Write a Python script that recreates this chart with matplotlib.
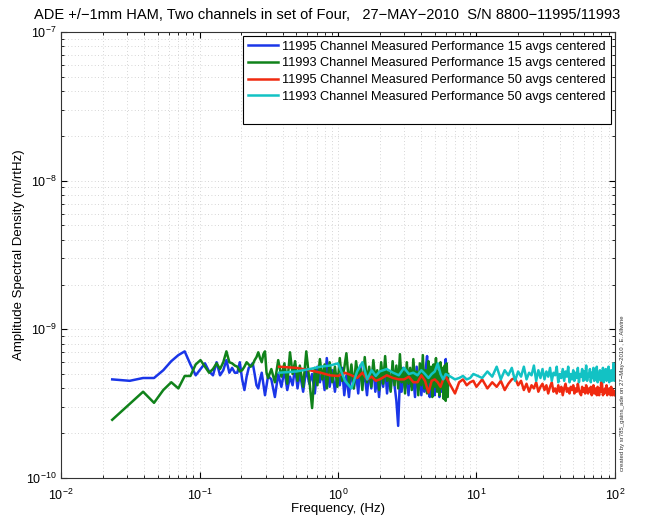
import matplotlib
matplotlib.use("Agg")
import matplotlib.pyplot as plt
from matplotlib.lines import Line2D
import numpy as np

plt.rcParams['font.family'] = ['Liberation Sans', 'DejaVu Sans']
plt.rcParams['mathtext.fontset'] = 'custom'
plt.rcParams['mathtext.rm'] = 'Liberation Sans'

# Frequencies (Hz) of the 15 avg runs (both channels)
freq15 = [0.0234, 0.0313, 0.0391, 0.0469, 0.0547, 0.0625, 0.0703, 0.0781, 0.0859, 0.0938,
          0.1016, 0.1094, 0.1172, 0.125, 0.1328, 0.1406, 0.1484, 0.1563, 0.1641, 0.1719,
          0.1797, 0.1875, 0.1953, 0.2031, 0.2109, 0.2188, 0.2266, 0.2344, 0.2422, 0.25,
          0.2578, 0.2656, 0.2734, 0.2813, 0.2891, 0.2969, 0.3047, 0.3125,
          0.33, 0.35, 0.37, 0.39, 0.41, 0.43, 0.45, 0.47, 0.49, 0.51,
          0.53, 0.56, 0.59, 0.62, 0.65, 0.68, 0.71, 0.74, 0.77, 0.80,
          0.83, 0.87, 0.91, 0.95, 0.99, 1.03, 1.07, 1.11, 1.15, 1.20,
          1.25, 1.30, 1.35, 1.40, 1.45, 1.50, 1.56, 1.62, 1.68, 1.74,
          1.80, 1.86, 1.92, 1.98, 2.05, 2.12, 2.19, 2.26, 2.33, 2.40,
          2.48, 2.56, 2.64, 2.72, 2.80, 2.88, 2.96, 3.05, 3.14, 3.23,
          3.32, 3.41, 3.50, 3.60, 3.70, 3.80, 3.90, 4.00, 4.10, 4.20,
          4.30, 4.40, 4.50, 4.60, 4.70, 4.80, 4.90, 5.00, 5.10, 5.20,
          5.30, 5.40, 5.50, 5.60, 5.70, 5.80, 5.90, 6.00, 6.10, 6.20, 6.25]

# ASD in units of 1e-10 m/rtHz
ch11995_15 = [4.6, 4.5, 4.7, 4.7, 5.3, 6.1, 6.7, 7.1, 5.8, 4.9,
              5.4, 5.9, 5.2, 4.9, 6.0, 4.9, 5.3, 6.2, 5.1, 5.5,
              5.1, 5.1, 6.0, 4.6, 3.9, 4.8, 5.5, 5.7, 5.9, 5.0,
              4.2, 4.0, 4.6, 5.1, 4.3, 3.6, 4.2, 4.85,
              4.6, 3.5, 5.0, 4.1, 5.3, 3.9, 4.8, 4.2, 5.6, 4.0,
              5.1, 3.8, 5.4, 4.3, 5.0, 3.7, 5.6, 4.4, 5.2, 3.9,
              6.4, 4.1, 5.3, 3.8, 5.0, 4.2, 5.5, 3.6, 4.9, 3.5,
              5.4, 4.0, 5.1, 3.7, 5.7, 4.3, 4.9, 3.6, 5.3, 4.0,
              5.8, 3.8, 4.8, 3.5, 5.2, 4.1, 5.6, 3.7, 4.9, 3.9,
              5.4, 4.2, 3.3, 2.24, 4.6, 3.8, 5.5, 4.0, 5.0, 3.6,
              5.3, 4.1, 4.7, 3.5, 5.6, 3.9, 5.1, 3.6, 4.8, 3.8,
              5.4, 6.6, 4.0, 3.5, 5.2, 3.7, 4.9, 3.6, 5.5, 3.9,
              4.7, 3.5, 5.3, 3.8, 4.6, 3.6, 5.0, 6.3, 3.9, 4.7, 4.2]

ch11993_15 = [2.46, 3.15, 3.8, 3.2, 3.9, 4.4, 4.0, 4.85, 4.85, 5.8,
              6.2, 5.6, 5.1, 5.4, 5.9, 5.4, 6.0, 7.1, 6.0, 5.9,
              5.7, 5.6, 5.2, 5.3, 5.6, 6.0, 5.8, 5.6, 5.8, 6.2,
              6.5, 7.0, 6.4, 6.0, 6.8, 7.1, 5.1, 4.7,
              5.4, 4.4, 6.2, 4.8, 5.9, 4.3, 7.0, 5.0, 6.1, 4.5,
              5.7, 4.1, 7.1, 4.6, 2.95, 5.5, 4.2, 6.3, 4.6, 5.8,
              4.0, 6.0, 4.4, 5.6, 4.1, 6.4, 4.5, 5.5, 6.9, 4.3,
              5.8, 4.0, 6.1, 4.7, 5.4, 3.9, 6.5, 4.4, 5.6, 4.1,
              6.2, 4.6, 5.3, 3.9, 6.0, 4.3, 6.6, 4.5, 5.2, 3.8,
              6.1, 4.2, 5.7, 4.0, 6.8, 4.4, 5.4, 3.7, 6.0, 4.3,
              5.5, 3.9, 6.3, 4.5, 5.2, 3.6, 5.9, 4.2, 6.7, 4.0,
              5.3, 3.7, 6.1, 4.4, 5.6, 3.5, 5.8, 4.1, 6.4, 3.8,
              5.2, 3.6, 6.0, 4.0, 5.5, 3.4, 5.7, 3.3, 5.9, 3.5, 5.0]

# Frequencies (Hz) of the 50 avg runs (both channels)
freq50 = [0.375, 0.5, 0.625, 0.75, 0.875, 1.0, 1.125, 1.25, 1.375, 1.5, 1.625, 1.75, 1.875, 2.0,
          2.25, 2.5, 2.75, 3.0, 3.25, 3.5, 3.75, 4.0, 4.25, 4.5, 4.75, 5.0, 5.25, 5.5, 5.75, 6.0,
          6.5, 7.0, 7.5, 8.0, 8.5, 9.0, 9.5, 10.0,
          11, 12, 13, 14, 15, 16, 17, 18, 19, 20, 21, 22, 23, 24, 25, 26, 27, 28, 29, 30,
          31, 32, 33, 34, 35, 36, 37, 38, 39, 40, 41, 42, 43, 44, 45, 46, 47, 48, 49, 50,
          51, 52, 53, 54, 55, 56, 57, 58, 59, 60, 61, 62, 63, 64, 65, 66, 67, 68, 69, 70,
          71, 72, 73, 74, 75, 76, 77, 78, 79, 80, 81, 82, 83, 84, 85, 86, 87, 88, 89, 90,
          91, 92, 93, 94, 95, 96, 97, 98, 99, 100]

ch11995_50 = [5.6, 5.5, 5.3, 5.1, 4.9, 4.85, 5.1, 4.9, 4.7, 5.1, 4.6, 4.8, 4.5, 4.6,
              4.9, 4.7, 4.6, 4.6, 4.8, 4.4, 4.4, 4.9, 4.5, 3.75, 4.5, 4.6, 4.4, 4.1, 4.6, 4.8,
              4.2, 3.7, 4.4, 4.6, 4.2, 4.4, 4.5, 4.1,
              4.6, 4.0, 4.4, 4.1, 4.5, 3.9, 4.3, 4.6, 4.7, 4.2, 4.5, 3.9, 4.3, 3.8, 4.2, 4.0, 4.4, 3.8, 4.1, 4.3,
              3.9, 4.2, 3.7, 4.1, 4.4, 3.8, 4.0, 3.7, 4.2, 3.8, 4.1, 3.6, 4.0, 4.3, 3.8, 4.0, 3.7, 4.1, 3.9, 4.2,
              3.7, 4.0, 3.8, 4.3, 3.9, 3.7, 3.6, 4.1, 3.8, 4.0, 3.7, 4.2, 3.9, 3.7, 4.0, 3.8, 4.1, 3.6, 3.9, 4.2,
              3.7, 4.0, 3.8, 3.6, 4.1, 3.7, 3.6, 4.0, 3.8, 5.0, 4.1, 3.6, 3.9, 3.7, 4.0, 3.8, 4.2, 3.6, 3.9, 3.7,
              4.0, 3.8, 3.6, 4.1, 3.7, 3.6, 3.9, 3.7, 3.8, 3.6]

ch11993_50 = [5.1, 5.2, 5.4, 5.6, 5.7, 5.9, 4.5, 4.0, 5.2, 6.0, 4.6, 5.3, 4.85, 5.2,
              5.4, 5.1, 4.9, 5.5, 5.0, 5.1, 4.9, 5.3, 5.0, 4.7, 5.0, 5.2, 5.9, 5.0, 4.6, 5.0,
              4.8, 4.6, 4.7, 4.85, 4.6, 4.7, 5.0, 4.9,
              4.7, 5.2, 4.8, 5.6, 4.6, 5.3, 4.9, 5.5, 4.5, 5.2, 4.8, 5.6, 4.6, 5.1, 4.9, 5.7, 4.5, 5.3, 4.7, 5.4,
              4.6, 5.2, 4.8, 5.5, 4.5, 5.1, 4.9, 5.6, 4.4, 5.0, 4.7, 5.4, 4.5, 5.2, 4.8, 5.6, 4.4, 5.0, 4.6, 5.3,
              4.5, 5.1, 4.7, 5.5, 4.4, 5.0, 4.8, 5.4, 4.5, 5.2, 4.6, 5.7, 4.5, 5.0, 4.8, 5.4, 4.4, 5.1, 4.7, 5.5,
              4.5, 5.2, 4.8, 5.6, 4.4, 5.0, 4.7, 5.3, 4.5, 5.1, 4.8, 5.5, 4.4, 5.2, 4.6, 5.4, 4.5, 5.0, 4.8, 5.6,
              4.4, 5.1, 4.7, 5.3, 4.5, 5.2, 4.6, 5.9, 4.5, 5.3]

labels = ["11995 Channel Measured Performance 15 avgs centered",
          "11993 Channel Measured Performance 15 avgs centered",
          "11995 Channel Measured Performance 50 avgs centered",
          "11993 Channel Measured Performance 50 avgs centered"]

fig = plt.figure(figsize=(6.5, 5.15), dpi=100)
ax = fig.add_axes([0.094, 0.072, 0.852, 0.866])

scale = 1e-10
ax.loglog(freq15, np.array(ch11995_15) * scale, color='#1a36e8', lw=1.8, label=labels[0])
ax.loglog(freq15, np.array(ch11993_15) * scale, color='#10821a', lw=1.8, label=labels[1])
ax.loglog(freq50, np.array(ch11995_50) * scale, color='#f02a10', lw=1.8, label=labels[2])
ax.loglog(freq50, np.array(ch11993_50) * scale, color='#12c2c4', lw=1.8, label=labels[3])

ax.set_xlim(1e-2, 1e2)
ax.set_ylim(1e-10, 1e-7)
ax.grid(True, which='both', ls=(0, (1, 3)), color='#c8c8c8', lw=0.6)
ax.tick_params(which='both', direction='in', top=True, right=True, labelsize=9)
ax.tick_params(which='major', length=4)
ax.tick_params(which='minor', length=2.5)
ax.tick_params(axis='x', pad=7)
ax.tick_params(axis='y', pad=3)
for s in ax.spines.values():
    s.set_linewidth(0.8)
    s.set_color('#333333')

ax.set_title("ADE +/\u22121mm HAM, Two channels in set of Four,   27\u2212MAY\u22122010  S/N 8800\u221211995/11993",
             fontsize=10.5, pad=9, x=0.48)
ax.set_xlabel("Frequency, (Hz)", fontsize=9.5, labelpad=0)
ax.set_ylabel("Amplitude Spectral Density (m/rtHz)", fontsize=9.5, labelpad=1)

handles, labs = ax.get_legend_handles_labels()
handles.append(Line2D([], [], color='none'))
labs.append(' ')
leg = ax.legend(handles, labs, loc='upper right', fontsize=9.2, fancybox=False,
                framealpha=1, edgecolor='black', handlelength=2.4, handletextpad=0.3,
                borderaxespad=0.3, labelspacing=0.36, borderpad=0.4)
leg.get_frame().set_linewidth(0.8)

fig.text(0.957, 0.085, "created by sr785_gains_ade on 27\u2212May\u22122010 , E. Allwine",
         rotation=90, fontsize=4.3, ha='center', va='bottom', color='#333333')

fig.savefig("out.png", dpi=100)
